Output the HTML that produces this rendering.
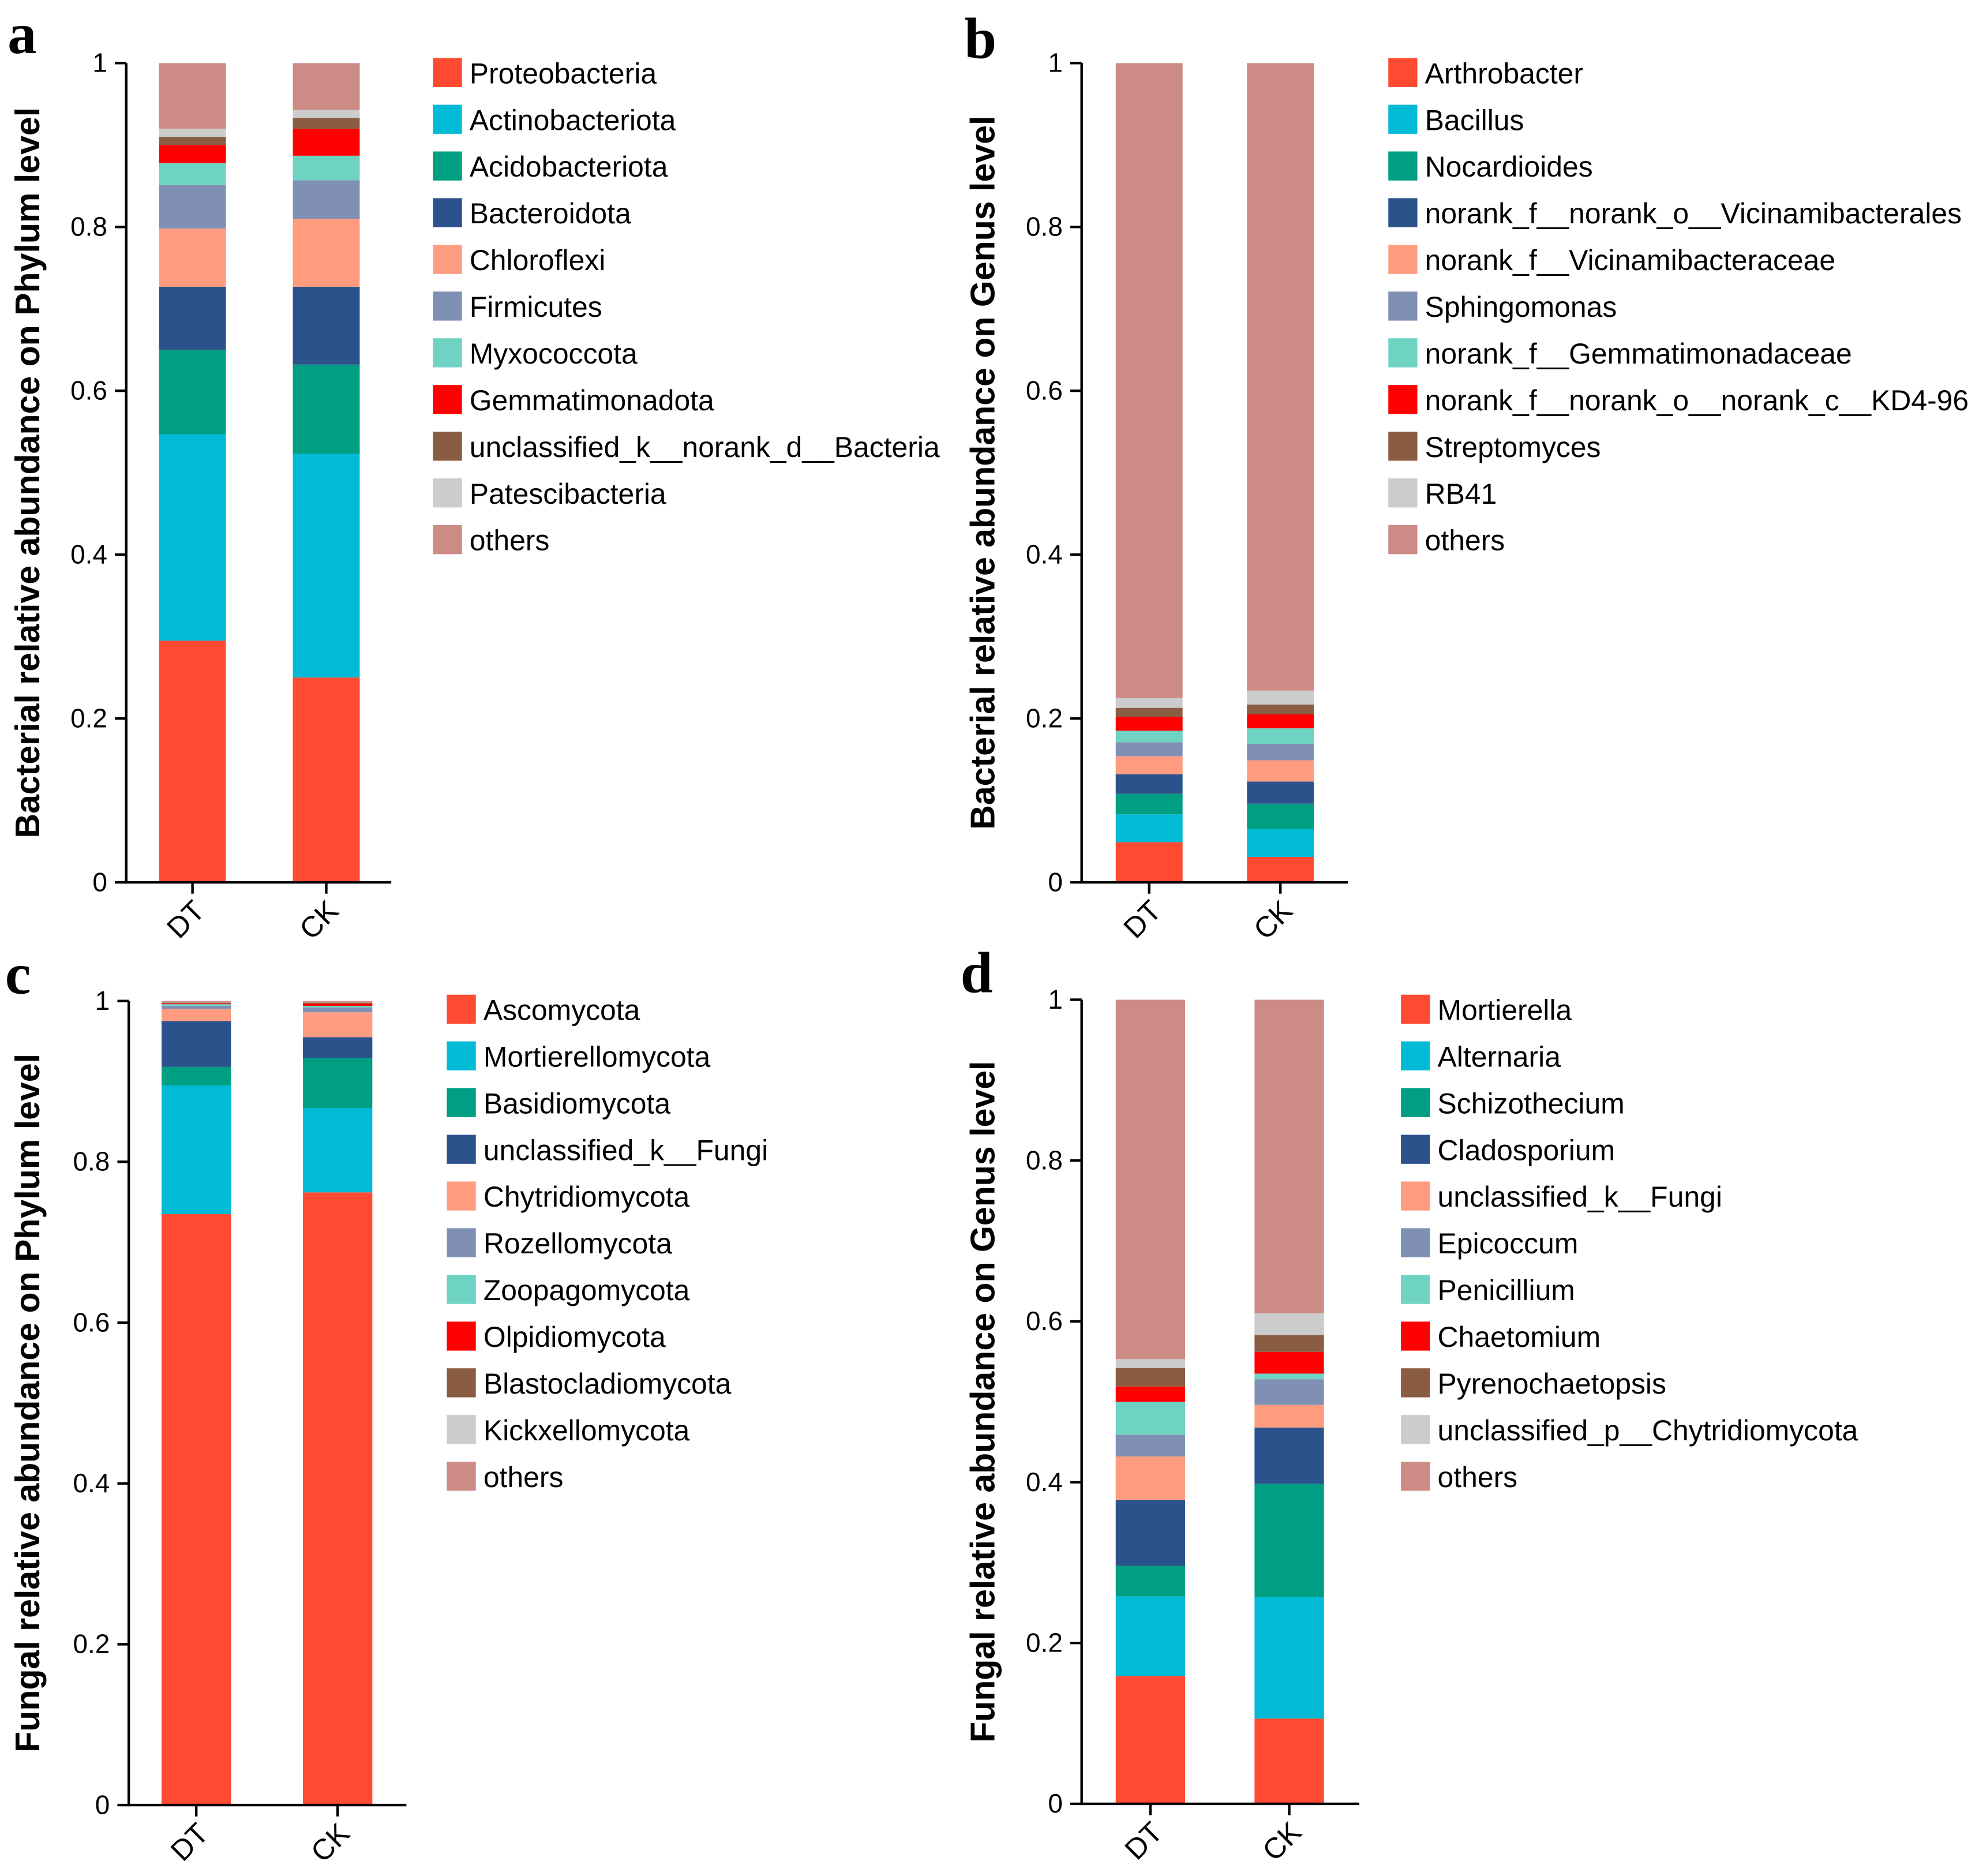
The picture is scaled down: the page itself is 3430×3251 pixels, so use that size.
<!DOCTYPE html>
<html><head><meta charset="utf-8"><style>
html,body{margin:0;padding:0;background:#fff}
svg{display:block}
</style></head><body>
<svg id="fig" width="3430" height="3251" viewBox="0 0 1568 1486.2" xmlns="http://www.w3.org/2000/svg" style="font-family:'Liberation Sans',Arial,sans-serif"></svg>
<script>
const colors=["#FF4A32","#00BAD6","#009E82","#2B528A","#FF9C80","#8090B5","#6ED3C2","#FF0000","#8A5C41","#CCCCCC","#CD8B86"];
const samples=["DT","CK"];
const ticks=[0,0.2,0.4,0.6,0.8,1];
const tickLabels=["0","0.2","0.4","0.6","0.8","1"];

const namesA=["Proteobacteria","Actinobacteriota","Acidobacteriota","Bacteroidota","Chloroflexi","Firmicutes","Myxococcota","Gemmatimonadota","unclassified_k__norank_d__Bacteria","Patescibacteria","others"];
const dtA=[0.295,0.252,0.103,0.077,0.071,0.053,0.027,0.022,0.010,0.010,0.080];
const ckA=[0.250,0.273,0.109,0.095,0.083,0.047,0.030,0.033,0.013,0.010,0.057];

const namesB=["Arthrobacter","Bacillus","Nocardioides","norank_f__norank_o__Vicinamibacterales","norank_f__Vicinamibacteraceae","Sphingomonas","norank_f__Gemmatimonadaceae","norank_f__norank_o__norank_c__KD4-96","Streptomyces","RB41","others"];
const dtB=[0.049,0.034,0.025,0.024,0.022,0.017,0.014,0.017,0.011,0.012,0.775];
const ckB=[0.031,0.034,0.031,0.027,0.026,0.020,0.019,0.017,0.012,0.017,0.766];

const namesC=["Ascomycota","Mortierellomycota","Basidiomycota","unclassified_k__Fungi","Chytridiomycota","Rozellomycota","Zoopagomycota","Olpidiomycota","Blastocladiomycota","Kickxellomycota","others"];
const dtC=[0.735,0.160,0.023,0.057,0.015,0.004,0.002,0.001,0.001,0.001,0.001];
const ckC=[0.762,0.105,0.062,0.026,0.031,0.006,0.002,0.003,0.001,0.001,0.001];

const namesD=["Mortierella","Alternaria","Schizothecium","Cladosporium","unclassified_k__Fungi","Epicoccum","Penicillium","Chaetomium","Pyrenochaetopsis","unclassified_p__Chytridiomycota","others"];
const dtD=[0.159,0.099,0.038,0.082,0.054,0.027,0.041,0.019,0.023,0.011,0.447];
const ckD=[0.106,0.151,0.141,0.070,0.028,0.032,0.007,0.027,0.021,0.027,0.390];

const NS="http://www.w3.org/2000/svg";
const svg=document.getElementById('fig');
function mk(tag,attrs,parent){const e=document.createElementNS(NS,tag);for(const k in attrs)e.setAttribute(k,attrs[k]);(parent||svg).appendChild(e);return e;}

const panels=[
 {id:"a",letter:[6,42],ax:100,y1:50,y0:699,bars:[126,232],bw:53,xend:310,lx:343,ly:58,title:"Bacterial relative abundance on Phylum level",tx:22,names:namesA,vals:[dtA,ckA]},
 {id:"b",letter:[764,46],ax:857,y1:50,y0:699,bars:[884,988],bw:53,xend:1068,lx:1100,ly:58,title:"Bacterial relative abundance on Genus level",tx:779,names:namesB,vals:[dtB,ckB]},
 {id:"c",letter:[4,787],ax:102,y1:793,y0:1430,bars:[128,240],bw:55,xend:322,lx:354,ly:800,title:"Fungal relative  abundance on Phylum level",tx:22,names:namesC,vals:[dtC,ckC]},
 {id:"d",letter:[761,786],ax:857,y1:792,y0:1429,bars:[884,994],bw:55,xend:1077,lx:1110,ly:800,title:"Fungal relative abundance on Genus level",tx:779,names:namesD,vals:[dtD,ckD]}
];

panels.forEach(p=>{
  const g=mk('g',{});
  
  
  const yS=v=>p.y0-(p.y0-p.y1)*v;
  const L=mk('text',{x:p.letter[0],y:p.letter[1],'font-size':46,'font-weight':'bold',style:"font-family:'Liberation Serif',serif"},g);
  L.textContent=p.id;
  
  
  samples.forEach((s,si)=>{
    let cum=0;
    p.vals[si].forEach((v,k)=>{
      const r=mk('rect',{x:p.bars[si],y:yS(cum+v),width:p.bw,height:yS(cum)-yS(cum+v),fill:colors[k]},g);
      
      
      cum+=v;
    });
  });
  const ya=mk('line',{x1:p.ax,y1:p.y1,x2:p.ax,y2:p.y0,stroke:'#000','stroke-width':2},g);
  
  
  const xa=mk('line',{x1:p.ax-1,y1:p.y0,x2:p.xend,y2:p.y0,stroke:'#000','stroke-width':2},g);
  
  
  ticks.forEach((t,i)=>{
    mk('line',{x1:p.ax-9,y1:yS(t),x2:p.ax,y2:yS(t),stroke:'#000','stroke-width':2},g);
    const tl=mk('text',{x:p.ax-15,y:yS(t)+7,'font-size':21,'text-anchor':'end'},g);
    tl.textContent=tickLabels[i];
    
    
  });
  samples.forEach((s,si)=>{
    const cx=p.bars[si]+p.bw/2;
    mk('line',{x1:cx,y1:p.y0,x2:cx,y2:p.y0+9,stroke:'#000','stroke-width':2},g);
    const xl=mk('text',{x:cx+11,y:p.y0+24,'font-size':23,'text-anchor':'end',transform:`rotate(-45 ${cx+11} ${p.y0+24})`},g);
    xl.textContent=s;
    
    
  });
  const cy=(p.y0+p.y1)/2;
  const yt=mk('text',{x:p.tx+9,y:cy,'font-size':27,'font-weight':'bold','text-anchor':'middle',transform:`rotate(-90 ${p.tx+9} ${cy})`},g);
  yt.textContent=p.title;
  
  
  p.names.forEach((n,k)=>{
    const y=p.ly+37*k;
    const le=mk('g',{},g);
    
    
    mk('rect',{x:p.lx,y:y-12,width:23,height:23,fill:colors[k]},le);
    const t=mk('text',{x:p.lx+29,y:y+8,'font-size':22.8},le);
    t.textContent=n;
  });
});
</script>
</body></html>
